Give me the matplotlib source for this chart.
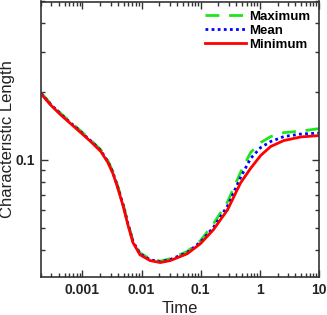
import matplotlib
matplotlib.use("Agg")
import matplotlib.pyplot as plt
from matplotlib.ticker import FixedLocator, FixedFormatter, LogLocator, NullFormatter

time = [2.0e-4, 2.89e-4, 4.28e-4, 6.32e-4, 9.36e-4, 1.38e-3, 2.05e-3, 2.69e-3,
        3.27e-3, 3.83e-3, 4.84e-3, 5.89e-3, 7.17e-3, 9.42e-3, 0.0140, 0.0207,
        0.0305, 0.0594, 0.0988, 0.164, 0.284, 0.473, 0.700, 1.035, 1.53, 2.55,
        4.95, 10.0]

minimum = [0.1954, 0.1748, 0.158, 0.1443, 0.1318, 0.1203, 0.1087, 0.0973,
           0.0871, 0.0772, 0.0630, 0.0515, 0.0430, 0.0380, 0.0358, 0.0351,
           0.0358, 0.0384, 0.0425, 0.0490, 0.0600, 0.0790, 0.0916, 0.1044,
           0.1144, 0.1215, 0.1260, 0.1278]

mean = [0.1965, 0.1760, 0.1592, 0.1455, 0.1330, 0.1213, 0.1097, 0.0983,
        0.0880, 0.0780, 0.0637, 0.0521, 0.0435, 0.0384, 0.0361, 0.0354,
        0.0362, 0.0389, 0.0432, 0.0502, 0.0624, 0.0836, 0.1013, 0.1132,
        0.1203, 0.1265, 0.1298, 0.1311]

maximum = [0.1975, 0.1772, 0.1603, 0.1466, 0.1340, 0.1222, 0.1106, 0.0991,
           0.0888, 0.0787, 0.0643, 0.0526, 0.0439, 0.0387, 0.0364, 0.0356,
           0.0365, 0.0393, 0.0438, 0.0520, 0.0650, 0.0880, 0.1077, 0.1190,
           0.1265, 0.1317, 0.1338, 0.1371]

xticks = [0.001, 0.01, 0.1, 1, 10]
xticklabels = ["0.001", "0.01", "0.1", "1", "10"]
yticks = [0.1]
yticklabels = ["0.1"]

plt.rcParams['font.family'] = ['Liberation Sans', 'DejaVu Sans']

fig = plt.figure(figsize=(3.27, 3.15), dpi=100)
ax = fig.add_axes([41/327, 1-277/315, 278/327, 275.5/315])

ax.plot(time, maximum, color='#1ee61e', lw=2.0, dashes=(5, 3.5), label='Maximum')
ax.plot(time, mean, color='#0000ff', lw=2.0, dashes=(1, 1.2), label='Mean')
ax.plot(time, minimum, color='#ff0000', lw=2.0, label='Minimum')

ax.set_xscale('log')
ax.set_yscale('log')
ax.set_xlim(2.0e-4, 10)
ax.set_ylim(0.0303, 0.5)

ax.xaxis.set_major_locator(FixedLocator(xticks))
ax.xaxis.set_major_formatter(FixedFormatter(xticklabels))
ax.xaxis.set_minor_locator(LogLocator(base=10, subs=range(2, 10), numticks=20))
ax.xaxis.set_minor_formatter(NullFormatter())
ax.yaxis.set_major_locator(FixedLocator(yticks))
ax.yaxis.set_major_formatter(FixedFormatter(yticklabels))
ax.yaxis.set_minor_locator(LogLocator(base=10, subs=range(2, 10), numticks=20))
ax.yaxis.set_minor_formatter(NullFormatter())

ax.tick_params(which='both', direction='in', top=True, right=True,
               color='#333333', labelsize=10, labelcolor='#222222')
ax.tick_params(which='major', length=5, width=1.0, pad=4.5)
ax.tick_params(which='minor', length=3, width=1.0)
for lab in ax.get_xticklabels() + ax.get_yticklabels():
    lab.set_fontweight('bold')
for s in ax.spines.values():
    s.set_color('#333333')
    s.set_linewidth(1.2)

ax.set_xlabel('Time', fontsize=12, color='#222222', labelpad=2.5)
ax.set_ylabel('Characteristic Length', fontsize=12, color='#222222')
ax.yaxis.set_label_coords(-0.095, 0.5)

leg = ax.legend(loc='upper right', frameon=False, prop={'weight': 'bold', 'size': 9.5},
                handlelength=3.1, handletextpad=0.2, labelspacing=0.12,
                borderaxespad=0.45, borderpad=0.25)

fig.savefig('out.png', dpi=100)
